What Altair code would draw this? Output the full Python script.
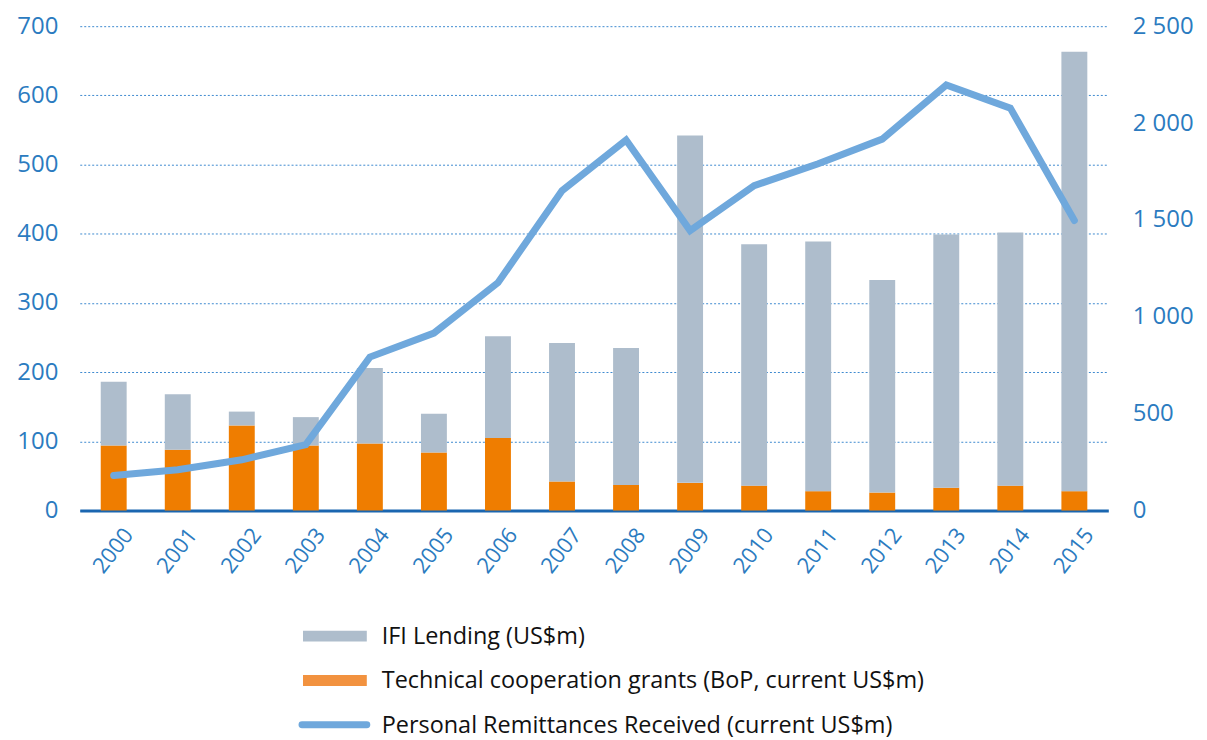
import altair as alt
import pandas as pd

years = [str(y) for y in range(2000, 2016)]
tc_grants = [94, 88, 123, 94, 97, 84, 105, 42, 37, 40, 36, 28, 26, 33, 36, 28]
ifi_lending = [92, 80, 20, 41, 109, 56, 147, 200, 198, 502, 349, 361, 307, 366, 366, 635]
remittances = [181, 211, 262, 340, 792, 916, 1176, 1651, 1912, 1445, 1677, 1790, 1917, 2196, 2077, 1497]

legend_labels = [
    "IFI Lending (US$m)",
    "Technical cooperation grants (BoP, current US$m)",
    "Personal Remittances Received (current US$m)",
]
legend_colors = ["#aebdcc", "#f2923f", "#6fa8dc"]

FONT = "Open Sans"
BLUE_TXT = "#2b7bc0"

bars = pd.DataFrame({
    "year": years * 2,
    "value": tc_grants + ifi_lending,
    "series": ["tc"] * 16 + ["ifi"] * 16,
    "order": [0] * 16 + [1] * 16,
})
line_df = pd.DataFrame({"year": years, "rem": remittances})

xscale = alt.Scale(paddingInner=0, paddingOuter=0.03)
xaxis = alt.Axis(
    labelAngle=-52, labelColor=BLUE_TXT, labelFontSize=22, labelFont=FONT,
    ticks=False, domainColor="#1a66b0", domainWidth=3,
    labelPadding=20, labelOffset=15, labelAlign="right", labelBaseline="middle",
    title=None,
)

bar_layer = alt.Chart(bars).mark_bar(size=26).encode(
    x=alt.X("year:N", scale=xscale, axis=xaxis),
    y=alt.Y(
        "value:Q", stack="zero",
        scale=alt.Scale(domain=[0, 700], nice=False),
        axis=alt.Axis(
            values=list(range(0, 701, 100)), grid=True, gridDash=[2, 2],
            gridColor="#3f8bd0", gridWidth=1, domain=False, ticks=False,
            labelFontSize=24, labelColor=BLUE_TXT, labelFont=FONT,
            labelPadding=22, title=None,
        ),
    ),
    color=alt.Color(
        "series:N",
        scale=alt.Scale(domain=["ifi", "tc"], range=["#aebdcc", "#ef7d00"]),
        legend=None,
    ),
    order=alt.Order("order:Q"),
)

line_layer = alt.Chart(line_df).mark_line(
    color="#6fa8dc", strokeWidth=7, strokeCap="round", strokeJoin="miter"
).encode(
    x=alt.X("year:N", scale=xscale, axis=xaxis),
    y=alt.Y(
        "rem:Q",
        scale=alt.Scale(domain=[0, 2500], nice=False),
        axis=alt.Axis(
            orient="right", values=list(range(0, 2501, 500)), grid=False,
            domain=False, ticks=False, labelFontSize=24, labelColor=BLUE_TXT,
            labelFont=FONT, labelPadding=24, title=None,
            labelExpr="replace(format(datum.value, ','), ',', ' ')",
        ),
    ),
)

main = alt.layer(bar_layer, line_layer).resolve_scale(y="independent").properties(
    width=1032, height=486
)

leg_df = pd.DataFrame({"lab": legend_labels, "kind": ["rect", "rect", "line"]})
ly = alt.Y("lab:N", sort=legend_labels, axis=None,
           scale=alt.Scale(type="point", padding=0))
lcolor = alt.Color(
    "lab:N", scale=alt.Scale(domain=legend_labels, range=legend_colors), legend=None
)
leg_rect = alt.Chart(leg_df).transform_filter("datum.kind == 'rect'").mark_rule(
    strokeWidth=11, strokeCap="butt"
).encode(x=alt.value(224), x2=alt.value(288), y=ly, color=lcolor)
leg_line = alt.Chart(leg_df).transform_filter("datum.kind == 'line'").mark_rule(
    strokeWidth=7, strokeCap="round"
).encode(x=alt.value(223), x2=alt.value(288), y=ly, color=lcolor)
leg_text = alt.Chart(leg_df).mark_text(
    align="left", baseline="middle", fontSize=23.5, font=FONT, color="#111111", dy=1
).encode(x=alt.value(303), y=ly, text="lab:N")

legend = alt.layer(leg_rect, leg_line, leg_text).properties(width=1032, height=89)

chart = alt.vconcat(main, legend, spacing=48).resolve_scale(
    color="independent"
).configure(background="white", padding={"left": 8, "top": 5, "right": 5, "bottom": 5}).configure_view(stroke=None)

chart.save("out.html", embed_options={"renderer": "svg", "actions": False})
